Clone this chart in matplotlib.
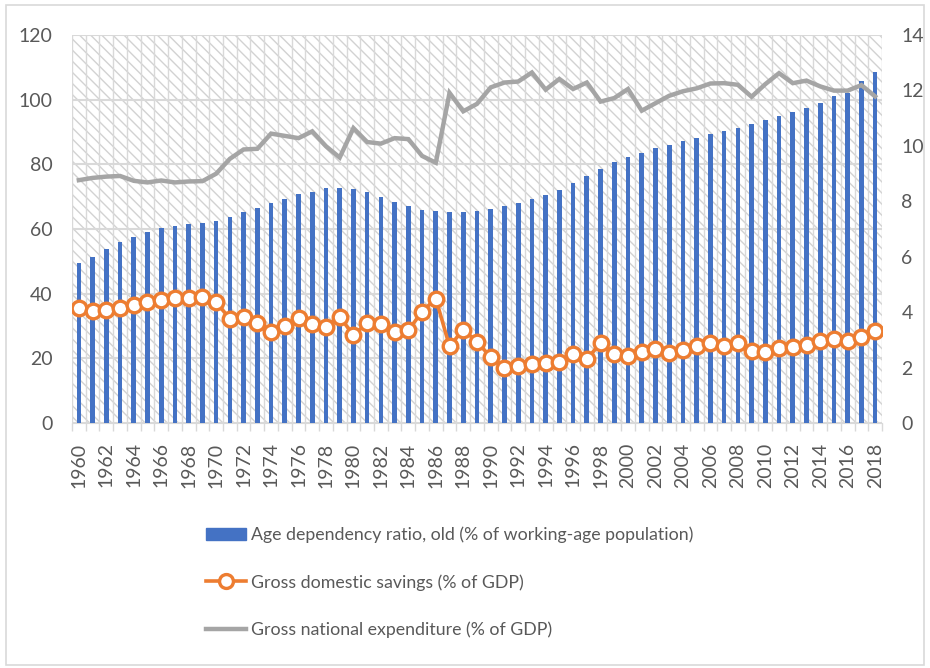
import matplotlib
matplotlib.use('Agg')
import matplotlib.pyplot as plt
from matplotlib.patches import Rectangle, Patch
from matplotlib.lines import Line2D
import numpy as np

years = list(range(1960, 2019))

# age dependency ratio, old (right axis)
age_dep = [5.79, 6.00, 6.27, 6.53, 6.72, 6.88, 7.05, 7.12, 7.18, 7.23,
           7.30, 7.44, 7.62, 7.77, 7.92, 8.10, 8.25, 8.35, 8.47, 8.49,
           8.45, 8.35, 8.17, 7.98, 7.82, 7.69, 7.64, 7.62, 7.62, 7.65,
           7.71, 7.82, 7.93, 8.07, 8.23, 8.41, 8.66, 8.91, 9.16, 9.40,
           9.61, 9.75, 9.93, 10.03, 10.16, 10.29, 10.42, 10.52, 10.65, 10.78,
           10.92, 11.06, 11.21, 11.38, 11.55, 11.80, 11.92, 12.34, 12.67]

# gross domestic savings (left axis)
savings = [35.5, 34.5, 34.8, 35.7, 36.6, 37.3, 38.0, 38.8, 38.8, 39.1,
           37.3, 32.3, 32.7, 31.0, 28.2, 30.1, 32.6, 30.6, 29.8, 32.9,
           27.1, 31.0, 30.7, 28.2, 28.7, 34.4, 38.5, 23.7, 28.9, 25.1,
           20.4, 17.0, 17.5, 18.1, 18.5, 19.0, 21.3, 19.7, 24.8, 21.2,
           20.7, 22.1, 22.8, 21.5, 22.6, 23.8, 24.6, 23.9, 24.8, 22.4,
           21.9, 23.3, 23.4, 24.0, 25.4, 26.0, 25.4, 26.5, 28.6]

# gross national expenditure (left axis)
gne = [75.1, 75.8, 76.2, 76.4, 74.9, 74.4, 75.0, 74.4, 74.7, 74.8,
       77.1, 81.7, 84.6, 84.8, 89.5, 88.8, 88.1, 90.2, 85.6, 82.1,
       91.2, 86.9, 86.4, 88.1, 87.8, 82.6, 80.5, 102.1, 96.4, 98.7,
       103.8, 105.3, 105.6, 108.4, 103.1, 106.4, 103.3, 105.3, 99.4, 100.5,
       103.3, 96.6, 98.9, 101.2, 102.6, 103.5, 105.0, 105.1, 104.6, 100.9,
       104.8, 108.2, 105.1, 105.9, 104.1, 102.8, 102.8, 104.5, 101.0]

labels = ["Age dependency ratio, old (% of working-age population)",
          "Gross domestic savings (% of GDP)",
          "Gross national expenditure (% of GDP)"]

blue = '#4472C4'
orange = '#ED7D31'
grey = '#A5A5A5'
txt = '#595959'
gridc = '#D9D9D9'

plt.rcParams['font.family'] = ['Lato', 'DejaVu Sans']
plt.rcParams['hatch.linewidth'] = 1.0

fig = plt.figure(figsize=(9.3, 6.68), dpi=100)
fig.patch.set_facecolor('white')
fig.patches.append(Rectangle((0.006, 0.004), 0.988, 0.988, transform=fig.transFigure,
                             fill=False, edgecolor=gridc, linewidth=1.2))

ax = fig.add_axes([0.0774, 0.3668, 0.871, 0.5808])
x = np.arange(len(years))

# hatched plot area
ax.add_patch(Rectangle((0, 0), 1, 1, transform=ax.transAxes, facecolor='white',
                       edgecolor='#D2D2D2', linewidth=0, hatch='\\\\\\', zorder=0))
ax.set_xlim(-0.5, len(years) - 0.5)
ax.set_ylim(0, 120)
ax.set_yticks(np.arange(0, 121, 20))
ax.grid(axis='y', color=gridc, linewidth=1.5, zorder=1)
ax.set_xticks(x[::2])
ax.set_xticklabels([str(y) for y in years[::2]], rotation=90)
ax.set_xticks(np.arange(-0.5, len(years), 1), minor=True)
ax.grid(axis='x', which='minor', color=gridc, linewidth=1.0, zorder=1)
ax.tick_params(axis='x', which='major', length=0, pad=14, labelsize=14, labelcolor=txt)
ax.tick_params(axis='x', which='minor', length=6, color=gridc, width=1)
ax.tick_params(axis='y', length=0, pad=14, labelsize=14, labelcolor=txt)
ax.set_axisbelow(True)
for s in ax.spines.values():
    s.set_visible(False)
ax.spines['bottom'].set_visible(True)
ax.spines['bottom'].set_color(gridc)

# bars on the secondary axis
axb = ax.twinx()
axb.bar(x, age_dep, width=0.34, color=blue, zorder=2)
axb.set_ylim(0, 14)
axb.set_yticks(np.arange(0, 15, 2))
axb.tick_params(axis='y', length=0, pad=14, labelsize=14, labelcolor=txt)
for s in axb.spines.values():
    s.set_visible(False)

# lines on the primary scale, drawn above the bars
axl = ax.twinx()
axl.set_ylim(0, 120)
axl.plot(x, gne, color=grey, linewidth=3.2, solid_joinstyle='miter', zorder=3)
axl.plot(x, savings, color=orange, linewidth=2.6, marker='o', markersize=10.5,
         markerfacecolor='white', markeredgecolor=orange, markeredgewidth=2.4, zorder=4)
axl.set_yticks([])
for s in axl.spines.values():
    s.set_visible(False)

handles = [Patch(facecolor=blue, edgecolor=blue),
           Line2D([], [], color=orange, linewidth=2.6, marker='o', markersize=10,
                  markerfacecolor='white', markeredgewidth=2.4),
           Line2D([], [], color=grey, linewidth=3.2)]
fig.legend(handles, labels, loc='upper left', bbox_to_anchor=(0.221, 0.212),
           frameon=False, fontsize=12.8, labelcolor=txt, handlelength=2.25,
           handletextpad=0.3, labelspacing=1.75, borderpad=0, borderaxespad=0)

fig.savefig('out.png', dpi=100)
